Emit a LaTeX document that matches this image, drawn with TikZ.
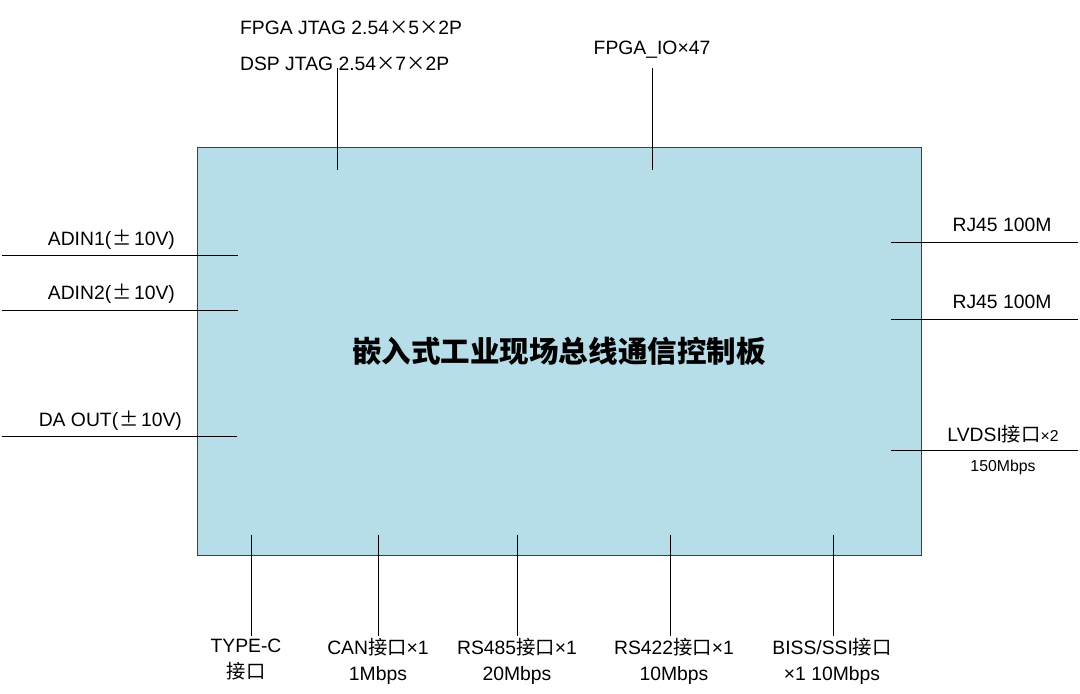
\documentclass[tikz,border=0pt]{standalone}
\usepackage{fontspec}
\setmainfont{Liberation Sans}
\newfontfamily\cjk{Noto Sans CJK SC}
\usepackage{tikz}
\definecolor{boardblue}{HTML}{B7DDE8}
\newcommand{\pmcn}{\kern1pt{\cjk ±}\kern1pt}

\begin{document}
\begin{tikzpicture}[x=0.02cm, y=-0.02cm,
    lbl/.style={inner sep=1pt, font=\fontsize{11}{14.7}\selectfont},
    small/.style={inner sep=1pt, font=\fontsize{9}{11}\selectfont}]
  \useasboundingbox (0,0) rectangle (1080,694);

  % Placa
  \node[draw=black!75, fill=boardblue, minimum width=14.48cm, minimum height=8.16cm,
        font=\cjk\bfseries\fontsize{16.8}{20}\selectfont] (board) at (559,351) {嵌入式工业现场总线通信控制板};

  % Topo
  \node[lbl, anchor=west] (jtag1) at (238,28) {FPGA JTAG 2.54{\cjk ×}5{\cjk ×}2P};
  \node[lbl, anchor=west] (jtag2) at (238,64) {DSP JTAG 2.54{\cjk ×}7{\cjk ×}2P};
  \node[lbl] (fpgaio) at (652,50) {FPGA\_IO×47};
  \coordinate (t1a) at (337,68);
  \coordinate (t1b) at (337,170);
  \coordinate (t2a) at (652,68);
  \coordinate (t2b) at (652,170);
  \draw (t1a) -- (t1b);
  \draw (t2a) -- (t2b);

  % Esquerda
  \node[lbl, anchor=east] (adin1) at (177,240) {ADIN1(\pmcn10V)};
  \node[lbl, anchor=east] (adin2) at (177,294) {ADIN2(\pmcn10V)};
  \node[lbl, anchor=east] (daout) at (184,421) {DA OUT(\pmcn10V)};
  \coordinate (l1a) at (2,255);
  \coordinate (l1b) at (238,255);
  \coordinate (l2a) at (2,310);
  \coordinate (l2b) at (238,310);
  \coordinate (l3a) at (2,436);
  \coordinate (l3b) at (237,436);
  \draw (l1a) -- (l1b);
  \draw (l2a) -- (l2b);
  \draw (l3a) -- (l3b);

  % Direita
  \node[lbl] (rj1) at (1002,225) {RJ45 100M};
  \node[lbl] (rj2) at (1002,302) {RJ45 100M};
  \node[lbl] (lvds) at (1003,434) {LVDSI{\cjk 接口}{\fontsize{9}{11}\selectfont ×2}};
  \node[small] (lvdsrate) at (1003,467) {150Mbps};
  \coordinate (r1a) at (891,242);
  \coordinate (r1b) at (1078,242);
  \coordinate (r2a) at (891,319);
  \coordinate (r2b) at (1078,319);
  \coordinate (r3a) at (891,450);
  \coordinate (r3b) at (1078,450);
  \draw (r1a) -- (r1b);
  \draw (r2a) -- (r2b);
  \draw (r3a) -- (r3b);

  % Baixo
  \node[lbl, align=center, anchor=north] (typec) at (246,637) {TYPE-C\\{\cjk 接口}};
  \node[lbl, align=center, anchor=north] (can) at (378,636) {CAN{\cjk 接口}×1\\1Mbps};
  \node[lbl, align=center, anchor=north] (rs485) at (517,636) {RS485{\cjk 接口}×1\\20Mbps};
  \node[lbl, align=center, anchor=north] (rs422) at (674,636) {RS422{\cjk 接口}×1\\10Mbps};
  \node[lbl, align=center, anchor=north] (biss) at (832,636) {BISS/SSI{\cjk 接口}\\×1 10Mbps};
  \coordinate (b1) at (251,535);
  \coordinate (b2) at (378,535);
  \coordinate (b3) at (517,535);
  \coordinate (b4) at (670,535);
  \coordinate (b5) at (833,535);
  \draw (b1) -- (b1 |- can.north);
  \draw (b2) -- (can.north);
  \draw (b3) -- (rs485.north);
  \draw (b4) -- (b4 |- rs422.north);
  \draw (b5) -- (b5 |- biss.north);
\end{tikzpicture}
\end{document}
